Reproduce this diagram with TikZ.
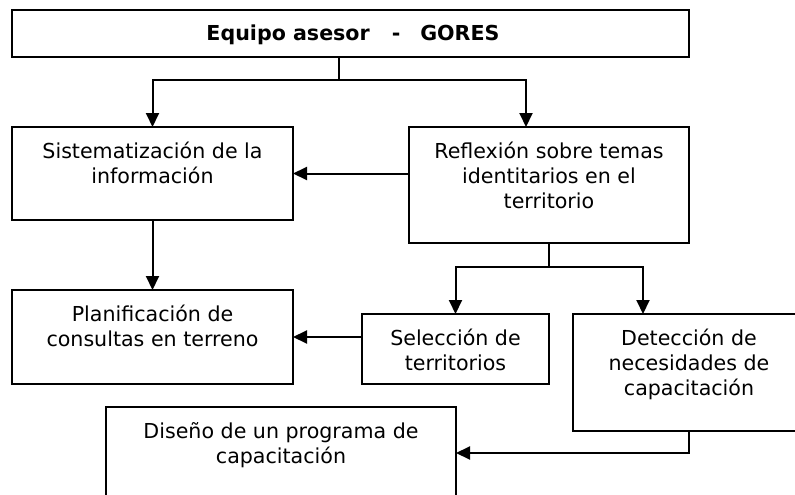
\documentclass[tikz,border=0pt]{standalone}
\usepackage{fontspec}
\setmainfont{DejaVu Sans}
\usetikzlibrary{arrows.meta,calc}
\newcommand\mlines[1]{\begin{tabular}[t]{@{}c@{}}#1\end{tabular}}
\begin{document}
\begin{tikzpicture}[x=1pt,y=-1pt,
  box/.style={draw=black,line width=2pt,rectangle,inner sep=0pt,outer sep=0pt,anchor=north west},
  lbl/.style={anchor=base,inner sep=0pt,font=\fontsize{20.6}{25}\selectfont},
  conn/.style={line width=2pt},
  arr/.style={line width=2pt,-{Triangle[length=14pt,width=13pt]}}]
\useasboundingbox (0,0) rectangle (795,495);
\clip (0,0) rectangle (795,495);
% boxes
\node[box,minimum width=677pt,minimum height=47pt] (top) at (12,10) {};
\node[box,minimum width=281pt,minimum height=93pt] (sis) at (12,127) {};
\node[box,minimum width=280pt,minimum height=116pt] (ref) at (409,127) {};
\node[box,minimum width=281pt,minimum height=94pt] (pla) at (12,290) {};
\node[box,minimum width=187pt,minimum height=70pt] (sel) at (362,314) {};
\node[box,minimum width=232pt,minimum height=117pt] (det) at (573,314) {};
\node[box,minimum width=350pt,minimum height=113pt] (dis) at (106,407) {};
% texts
\node[lbl,font=\fontsize{20.6}{25}\selectfont\bfseries] (ttop) at (353,41) {Equipo asesor\hspace{22pt}-\hspace{20pt}GORES};
\node[lbl] (tsis) at (152.5,158) {\mlines{Sistematización de la\\información}};
\node[lbl] (tref) at (549,158) {\mlines{Reflexión sobre temas\\identitarios en el\\territorio}};
\node[lbl] (tpla) at (152.5,321) {\mlines{Planificación de\\consultas en terreno}};
\node[lbl] (tsel) at (455.5,345) {\mlines{Selección de\\territorios}};
\node[lbl] (tdet) at (689,345) {\mlines{Detección de\\necesidades de\\capacitación}};
\node[lbl] (tdis) at (281,438) {\mlines{Diseño de un programa de\\capacitación}};
% junctions
\coordinate (j1) at (339,80);
\coordinate (refin) at (526,127);
\coordinate (j3) at (549,267);
\coordinate (detin) at (643,314);
\coordinate (disin) at (456,453);
% connectors
\draw[conn] (j1 |- top.south) -- (j1);
\draw[arr] (j1) -| (sis.north);
\draw[arr] (j1) -| (refin);
\draw[arr] (ref.west |- sis.east) -- (sis.east);
\draw[arr] (sis.south) -- (pla.north);
\draw[conn] (ref.south) -- (j3);
\draw[arr] (j3) -| (sel.north);
\draw[arr] (j3) -| (detin);
\draw[arr] (sel.west |- pla.east) -- (pla.east);
\draw[arr] (det.south) |- (disin);
\end{tikzpicture}
\end{document}
